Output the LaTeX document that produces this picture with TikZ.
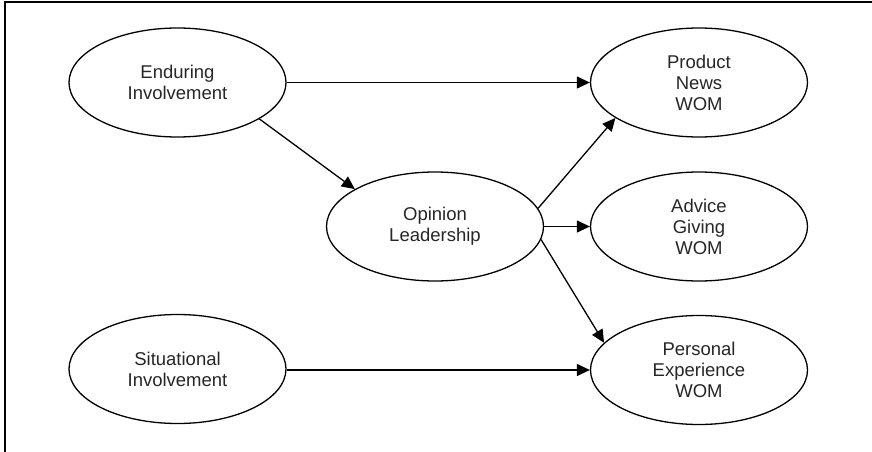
\documentclass[tikz,border=0pt]{standalone}
\usepackage{fontspec}
\setmainfont{Liberation Sans}
\usetikzlibrary{shapes.geometric,arrows.meta}
\begin{document}
\begin{tikzpicture}[x=1pt,y=-1pt,
  construct/.style={draw, ellipse, line width=1.3pt, minimum width=217pt,
    minimum height=109pt, inner sep=0pt, align=center, text=black!85,
    font=\fontsize{18.5}{21}\selectfont,
    % taller first line nudges the text block slightly below the centre
    execute at begin node={\rule{0pt}{19.5pt}}},
  link/.style={line width=1.3pt, -{Triangle[length=13pt,width=12pt]}}]
\useasboundingbox (0,0) rectangle (872,452);
% open frame along the top and left edges
\draw[line width=1.3pt] (5,452) -- (5,2) -- (872,2);

\node[construct] (enduring) at (177.5,82.5) {Enduring\\Involvement};
\node[construct] (situational) at (177.5,369) {Situational\\Involvement};
\node[construct] (opinion) at (435,226.5) {Opinion\\Leadership};
\node[construct] (news) at (699,82.5) {Product\\News\\WOM};
\node[construct] (advice) at (699,226.5) {Advice\\Giving\\WOM};
\node[construct] (personal) at (699,370) {Personal\\Experience\\WOM};

\draw[link] (enduring) -- (news);
\draw[link] (enduring.-24.6) -- (opinion.155);
\draw[link] (opinion.10.7) -- (news.-157);
\draw[link] (opinion) -- (advice);
\draw[link] (opinion.-7.2) -- (personal.164);
\draw[link] (situational.east |- personal.west) -- (personal.west);
\end{tikzpicture}
\end{document}
